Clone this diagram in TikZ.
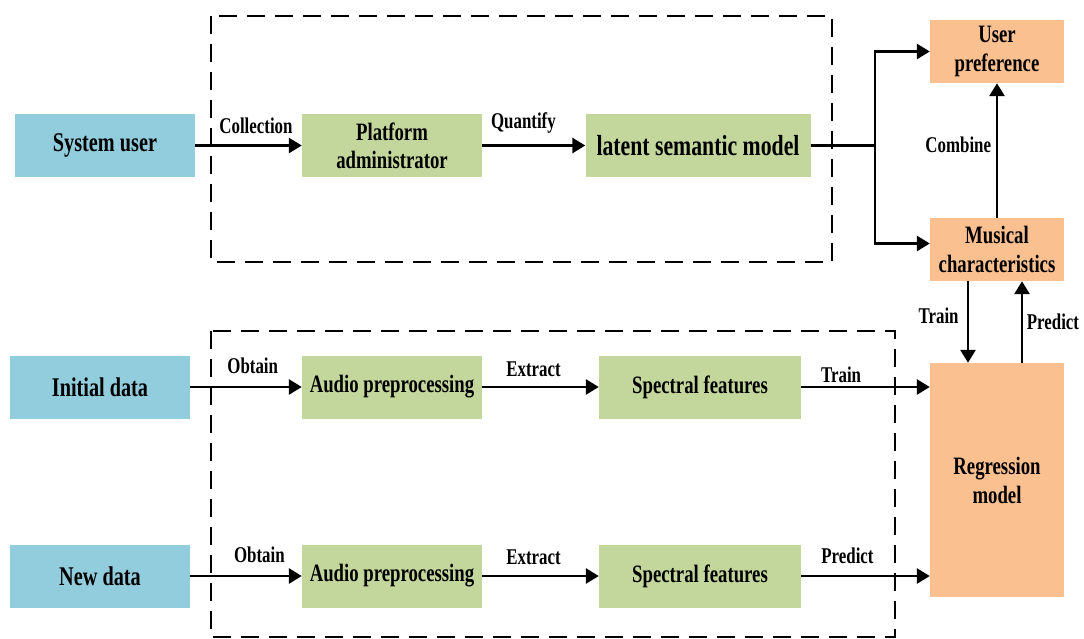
\documentclass[tikz,border=0pt]{standalone}
\usepackage{fontspec}
\newfontfamily\figfont{Liberation Serif}[FakeStretch=0.75]
\usepackage{tikz}
\definecolor{cb}{RGB}{146, 205, 221}
\definecolor{cg}{RGB}{195, 214, 155}
\definecolor{co}{RGB}{250, 192, 144}
\usetikzlibrary{arrows.meta}
\tikzset{
  box/.style={rectangle, inner sep=0pt, align=center, text=black},
  srcbox/.style={box, fill=cb, minimum width=180pt, minimum height=63pt, font=\figfont\bfseries\fontsize{27pt}{31pt}\selectfont},
  procbox/.style={box, fill=cg, minimum height=63pt, font=\figfont\bfseries\fontsize{25pt}{28pt}\selectfont},
  outbox/.style={box, fill=co, minimum width=134pt, minimum height=63pt, font=\figfont\bfseries\fontsize{25pt}{29pt}\selectfont},
  lbl/.style={inner sep=0pt, anchor=base, font=\figfont\bfseries\fontsize{22.5pt}{26pt}\selectfont},
  arr/.style={line width=2.8pt, -{Triangle[length=13pt, width=15pt]}},
  ln/.style={line width=2.8pt},
  dashbox/.style={line width=2.7pt, dash pattern=on 18pt off 10pt}
}
\begin{document}
\begin{tikzpicture}
\useasboundingbox (0pt, 0pt) rectangle (1084pt, -638pt);
\draw [dashbox] (211pt, -16pt) rectangle (832pt, -262pt);
\draw [dashbox] (211pt, -331pt) rectangle (895pt, -637pt);
\node (1) [srcbox] at (105.0pt, -145.5pt) {System user};
\node (2) [procbox, minimum width=180pt] at (392.0pt, -145.5pt) {Platform\\administrator};
\node (3) [procbox, minimum width=225pt, font=\figfont\bfseries\fontsize{29pt}{33pt}\selectfont] at (698.0pt, -145.5pt) {latent semantic model};
\node (4) [outbox] at (997.0pt, -51.5pt) {User\\preference};
\node (5) [outbox] at (997.0pt, -249.5pt) {Musical\\characteristics};
\node (6) [outbox, minimum height=234pt] at (997.0pt, -480.0pt) {Regression\\model};
\node (7) [srcbox] at (100.0pt, -387.0pt) {Initial data};
\node (8) [procbox, minimum width=180pt] at (392.0pt, -387.0pt) {Audio preprocessing};
\node (9) [procbox, minimum width=202pt] at (700.0pt, -387.0pt) {Spectral features};
\node (10) [srcbox] at (100.0pt, -576.0pt) {New data};
\node (11) [procbox, minimum width=180pt] at (392.0pt, -576.0pt) {Audio preprocessing};
\node (12) [procbox, minimum width=202pt] at (700.0pt, -576.0pt) {Spectral features};
\coordinate (j) at (875pt, -145.5pt);
\draw [arr] (1) to node [lbl, pos=0.57, yshift=12.5pt] (l1) {Collection} (2);
\draw [arr] (2) to node [lbl, pos=0.40, yshift=17pt] (l2) {Quantify} (3);
\draw [ln] (3) to (j);
\draw [arr] (j) |- (4);
\draw [arr] (j) |- ([yshift=6pt]5.west);
\draw [arr] (5) to node [lbl, left=4.5pt, yshift=5.5pt] (l3) {Combine} (4);
\draw [arr] ([xshift=-29pt]5.south) to node [lbl, left=8pt, yshift=6pt] (l4) {Train} ([xshift=-29pt]6.north);
\draw [arr] ([xshift=25pt]6.north) to node [lbl, right=3.5pt] (l5) {Predict} ([xshift=25pt]5.south);
\draw [arr] (7) to node [lbl, pos=0.56, yshift=14pt] (l6) {Obtain} (8);
\draw [arr] (8) to node [lbl, pos=0.44, yshift=11pt] (l7) {Extract} (9);
\draw [arr] (9) to node [lbl, pos=0.31, yshift=5pt] (l8) {Train} (9 -| 6.west);
\draw [arr] (10) to node [lbl, pos=0.62, yshift=14pt] (l9) {Obtain} (11);
\draw [arr] (11) to node [lbl, pos=0.44, yshift=12pt] (l10) {Extract} (12);
\draw [arr] (12) to node [lbl, pos=0.36, yshift=13pt] (l11) {Predict} (12 -| 6.west);
\end{tikzpicture}
\end{document}
